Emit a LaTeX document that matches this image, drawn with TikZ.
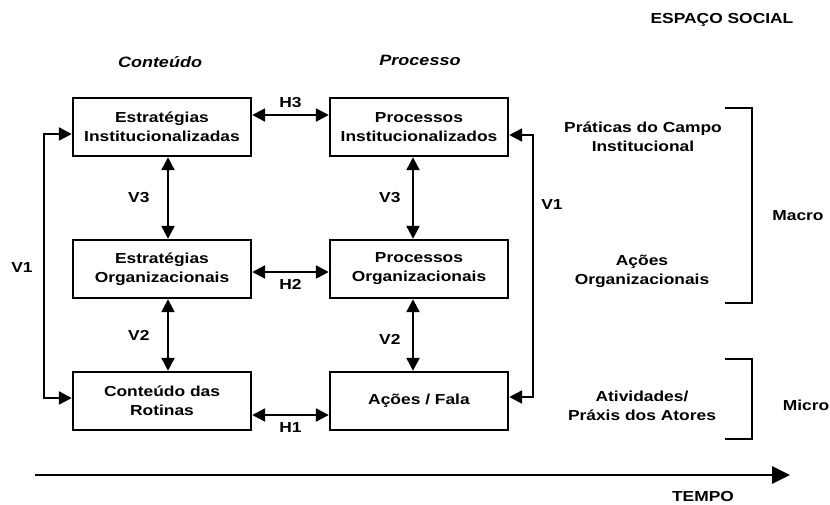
\documentclass[tikz,border=0pt]{standalone}
\usepackage{fontspec}
\setmainfont{Liberation Sans}[FakeStretch=1.2]
\usepackage{tikz}
\usetikzlibrary{arrows.meta,positioning,calc}

\begin{document}
\begin{tikzpicture}[x=1pt,y=-1pt,
    box/.style={rectangle,draw,line width=2.4pt,align=center,minimum width=178pt,minimum height=58pt,inner sep=0pt,font=\bfseries\fontsize{14.5}{19}\selectfont},
    lbl/.style={align=center,font=\bfseries\fontsize{14.5}{19}\selectfont},
    head/.style={font=\bfseries\itshape\fontsize{15}{18}\selectfont},
    link/.style={<->,line width=2.4pt},
    brace/.style={line width=2.6pt},
    >={Triangle[length=13pt,width=13pt]}]
    \useasboundingbox (0,0) rectangle (830,504);
    % colunas: conteudo e processo
    \node[box] (estinst) at (162,127) {Estratégias\\Institucionalizadas};
    \node[box] (estorg) at (162,269) {Estratégias\\Organizacionais};
    \node[box] (rotinas) at (162,401) {Conteúdo das\\Rotinas};
    \node[box] (procinst) at (419,127) {Processos\\Institucionalizados};
    \node[box] (procorg) at (419,269) {Processos\\Organizacionais};
    \node[box] (acoes) at (419,401) {Ações / Fala};
    \node[head] (conteudo) at (160,62) {Conteúdo};
    \node[head] (processo) at (420,60) {Processo};
    % ligacoes horizontais
    \draw[link] ([yshift=12pt]estinst.east) -- node[lbl,above=3pt]{H3} ([yshift=12pt]procinst.west);
    \draw[link] ([yshift=-3pt]estorg.east) -- node[lbl,below=3pt]{H2} ([yshift=-3pt]procorg.west);
    \draw[link] ([yshift=-14pt]rotinas.east) -- node[lbl,below=3pt]{H1} ([yshift=-14pt]acoes.west);
    % ligacoes verticais
    \draw[link] ([xshift=6pt]estinst.south) -- node[lbl,left=14pt]{V3} ([xshift=6pt]estorg.north);
    \draw[link] ([xshift=6pt]estorg.south) -- node[lbl,left=14pt]{V2} ([xshift=6pt]rotinas.north);
    \draw[link] ([xshift=-6pt]procinst.south) -- node[lbl,left=8pt]{V3} ([xshift=-6pt]procorg.north);
    \draw[link] ([xshift=-6pt]procorg.south) -- node[lbl,left=8pt,yshift=-4pt]{V2} ([xshift=-6pt]acoes.north);
    \draw[link] ([yshift=-7pt]estinst.west) -- ++(-28,0) |- ([yshift=3pt]rotinas.west);
    \draw[link] ([yshift=-8pt]procinst.east) -- ++(24,0) |- ([yshift=4pt]acoes.east);
    \node[lbl] (v1esq) at (22,268) {V1};
    \node[lbl] (v1dir) at (552,205) {V1};
    % espaco social
    \node[lbl] (espaco) at (722,20) {ESPAÇO SOCIAL};
    \node[lbl] (praticas) at (643,137) {Práticas do Campo\\Institucional};
    \node[lbl] (acoesorg) at (642,271) {Ações\\Organizacionais};
    \node[lbl] (atividades) at (642,406) {Atividades/\\Práxis dos Atores};
    \draw[brace] (725,108) -| (752,303) -- (725,303);
    \draw[brace] (725,359) -| (752,439) -- (725,439);
    \node[lbl] (macro) at (798,216) {Macro};
    \node[lbl] (micro) at (806,405) {Micro};
    % eixo do tempo
    \coordinate (t0) at (35,475);
    \coordinate (t1) at (790,475);
    \draw[->,line width=2.8pt,>={Triangle[length=18pt,width=17pt]}] (t0) -- (t1);
    \node[lbl] (tempo) at (703,497) {TEMPO};
\end{tikzpicture}
\end{document}
